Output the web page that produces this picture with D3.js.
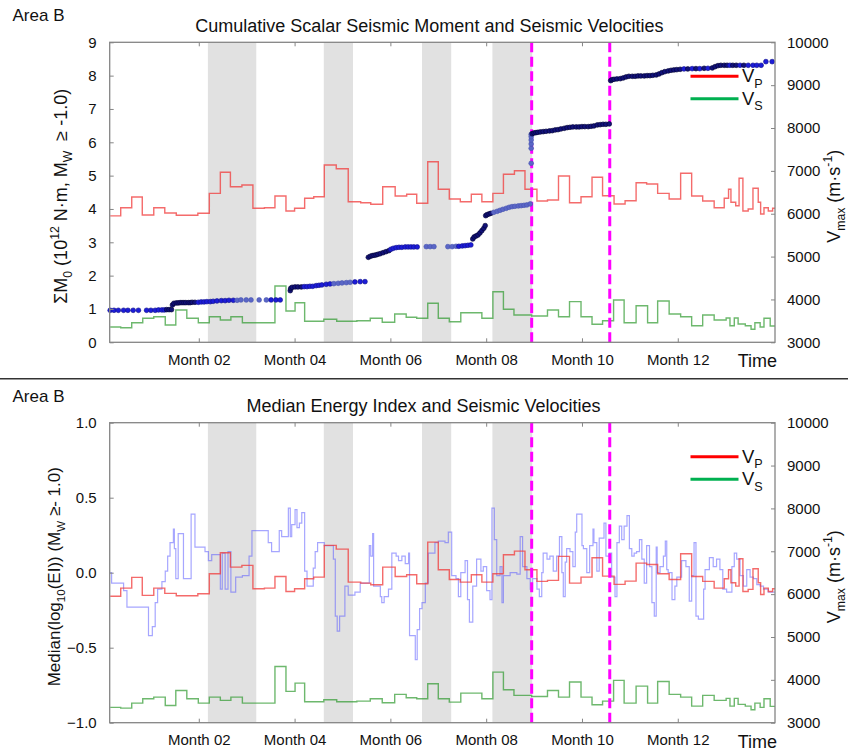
<!DOCTYPE html>
<html>
<head>
<meta charset="utf-8">
<script src="https://cdn.jsdelivr.net/npm/d3@7"></script>
<style>
  body { margin: 0; background: #fff; }
  text { font-family: "Liberation Sans", Arial, sans-serif; fill: #111; white-space: pre; }
</style>
</head>
<body>
<svg id="chart" width="848" height="751"></svg>
<script>
(function(){
    // time axis in months, "Month 02" tick sits at 2
    var xDomain = [0.14, 14.03];
    var monthTicks = [2, 4, 6, 8, 10, 12];
    var monthLabels = ['Month 02', 'Month 04', 'Month 06', 'Month 08', 'Month 10', 'Month 12'];

    var shadeBands = [[2.19, 3.20], [4.61, 5.22], [6.66, 7.27], [8.13, 8.96]];
    var eventLines = [8.95, 10.58];

    var momentTicks = [0, 1, 2, 3, 4, 5, 6, 7, 8, 9];
    var eiTicks = [-1.0, -0.5, 0.0, 0.5, 1.0];
    var velTicks = [3000, 4000, 5000, 6000, 7000, 8000, 9000, 10000];

    // Vp / Vs step series: [month, m/s], each value holds until the next one
    var vpSteps = [
        [0.15,5950],[0.37,6140],[0.60,6390],[0.82,5970],[1.06,6140],[1.29,6017],[1.53,5963],
        [1.98,6010],[2.22,6476],[2.45,6967],[2.66,6630],[2.90,6670],[3.13,6127],[3.37,6140],
        [3.59,6413],[3.82,6063],[4.00,6127],[4.21,6360],[4.40,6397],[4.62,7137],[4.87,7050],
        [5.12,6280],[5.38,6257],[5.59,6220],[5.84,6630],[6.10,6413],[6.34,6453],[6.55,6243],
        [6.78,7213],[7.00,6570],[7.23,6343],[7.46,6280],[7.69,6453],[7.91,6280],[8.14,6476],
        [8.36,6920],[8.59,7003],[8.81,6570],[9.06,6297],[9.28,6320],[9.51,6880],[9.74,6257],
        [9.98,6397],[10.21,6850],[10.43,6420],[10.67,6227],[10.90,6303],[11.13,6723],
        [11.35,6693],[11.58,6476],[11.82,6343],[12.06,6943],[12.29,6413],[12.52,6297],
        [12.76,6140],[12.97,6360],[13.06,6570],[13.11,6267],[13.21,6187],[13.28,6827],
        [13.36,6063],[13.47,6110],[13.57,6593],[13.68,6267],[13.73,5993],[13.80,6140],
        [13.89,6063],[13.98,6127],[14.03,6127]
    ];
    var vsSteps = [
        [0.15,3357],[0.37,3340],[0.60,3457],[0.83,3560],[1.06,3597],[1.30,3403],[1.52,3753],
        [1.75,3560],[1.99,3457],[2.22,3597],[2.45,3520],[2.67,3597],[2.91,3457],[3.59,4313],
        [3.82,3730],[4.01,3923],[4.21,3490],[4.61,3537],[4.88,3490],[5.30,3503],[5.58,3560],
        [5.83,3467],[6.09,3660],[6.33,3583],[6.55,3560],[6.78,3910],[7.00,3560],[7.23,3480],
        [7.47,3690],[7.91,3560],[8.14,4180],[8.36,3770],[8.58,3637],[8.95,3613],[9.28,3753],
        [9.51,3597],[9.74,3950],[9.98,3597],[10.21,3420],[10.43,3503],[10.66,3987],
        [10.88,3457],[11.13,3853],[11.37,3457],[11.58,3963],[11.82,3660],[12.06,3597],
        [12.29,3387],[12.52,3637],[12.76,3520],[13.01,3567],[13.09,3387],[13.18,3567],
        [13.26,3427],[13.41,3387],[13.53,3303],[13.61,3457],[13.72,3357],[13.80,3560],
        [13.93,3380],[14.03,3380]
    ];

    // cumulative scalar moment: [month, 10^12 N·m, shade 0 light .. 2 dark]
    var momentDots = [
        [0.15,0.96,1],[0.23,0.96,1],[0.32,0.96,1],[0.43,0.96,1],[0.52,0.96,1],[0.63,0.96,1],
        [0.74,0.96,1],[0.91,0.96,1],[1.00,0.96,1],[1.09,0.96,1],[1.16,0.97,1],[1.23,0.97,1],
        [1.28,0.97,1],[1.33,0.98,2],[1.38,0.98,2],[1.43,0.98,2],
        [1.45,1.12,2],[1.48,1.17,2],[1.53,1.18,2],[1.57,1.18,2],[1.61,1.19,2],[1.65,1.19,2],
        [1.69,1.19,2],[1.73,1.19,2],[1.78,1.19,2],[1.82,1.19,2],[1.86,1.20,2],[1.92,1.20,2],
        [1.99,1.20,1],[2.05,1.21,1],[2.11,1.21,1],[2.17,1.22,1],[2.24,1.22,1],[2.30,1.23,1],
        [2.38,1.24,1],[2.47,1.25,1],[2.55,1.25,1],[2.63,1.26,1],[2.72,1.26,1],[2.80,1.26,0],
        [2.88,1.27,0],[2.99,1.27,0],[3.09,1.27,0],[3.26,1.27,0],[3.41,1.27,0],[3.51,1.27,1],
        [3.61,1.27,1],[3.70,1.27,1],
        [3.91,1.55,2],[3.92,1.62,2],[3.95,1.65,2],[4.01,1.66,2],[4.07,1.66,2],[4.14,1.66,2],
        [4.20,1.67,1],[4.26,1.67,1],[4.32,1.68,1],[4.38,1.68,1],[4.45,1.70,1],[4.51,1.71,1],
        [4.57,1.72,1],[4.66,1.74,1],[4.74,1.75,1],[4.82,1.76,0],[4.91,1.77,0],[4.99,1.78,0],
        [5.08,1.79,0],[5.16,1.80,0],[5.26,1.81,1],[5.37,1.82,1],[5.47,1.82,1],
        [5.54,2.55,2],[5.58,2.58,2],[5.62,2.60,2],[5.66,2.61,2],[5.70,2.62,2],[5.74,2.64,2],
        [5.79,2.66,2],[5.85,2.69,2],[5.91,2.72,2],[5.97,2.75,2],[6.01,2.79,1],[6.06,2.82,1],
        [6.12,2.84,1],[6.18,2.85,1],[6.24,2.85,1],[6.31,2.86,1],[6.37,2.86,1],[6.43,2.86,1],
        [6.49,2.86,1],[6.56,2.86,1],[6.75,2.87,0],[6.83,2.87,0],[6.91,2.87,0],[7.20,2.87,0],
        [7.29,2.87,0],[7.37,2.88,0],[7.43,2.88,1],[7.50,2.89,1],[7.56,2.90,1],[7.62,2.91,1],
        [7.68,2.92,1],[7.72,3.10,2],[7.75,3.16,2],[7.79,3.19,2],[7.83,3.22,2],[7.87,3.28,2],
        [7.91,3.35,2],[7.95,3.42,2],[7.98,3.50,2],
        [7.99,3.80,2],[8.02,3.83,2],[8.06,3.85,2],[8.10,3.87,2],[8.16,3.90,0],[8.23,3.93,0],
        [8.29,3.96,0],[8.35,3.99,0],[8.42,4.02,0],[8.48,4.05,0],[8.54,4.07,0],[8.60,4.08,0],
        [8.67,4.09,0],[8.73,4.10,0],[8.79,4.11,0],[8.85,4.12,0],[8.92,4.15,0],
        [8.94,5.37,0],[8.94,5.82,0],[8.94,5.95,0],[8.94,6.07,0],[8.94,6.17,0],[8.94,6.24,0],
        [8.96,6.26,2],[9.00,6.28,2],[9.04,6.29,2],[9.08,6.30,2],[9.13,6.31,2],[9.19,6.32,2],
        [9.25,6.33,2],[9.32,6.34,2],[9.38,6.35,2],[9.44,6.37,2],[9.50,6.38,2],[9.56,6.40,2],
        [9.63,6.42,2],[9.69,6.44,2],[9.75,6.45,2],[9.81,6.46,2],[9.88,6.46,2],[9.94,6.46,2],
        [10.00,6.47,2],[10.06,6.47,2],[10.13,6.47,2],[10.19,6.48,2],[10.25,6.49,2],
        [10.32,6.52,2],[10.38,6.53,2],[10.44,6.54,2],[10.50,6.54,2],[10.57,6.55,2],
        [10.60,7.85,2],[10.63,7.88,2],[10.67,7.89,2],[10.73,7.90,2],[10.80,7.91,2],
        [10.86,7.93,2],[10.92,7.96,2],[10.98,7.98,2],[11.05,7.98,2],[11.11,7.98,2],
        [11.17,7.99,2],[11.23,7.99,2],[11.30,7.99,2],[11.36,8.00,2],[11.42,8.00,2],
        [11.48,8.01,2],[11.55,8.02,2],[11.61,8.05,2],[11.67,8.09,2],[11.73,8.12,2],
        [11.80,8.14,2],[11.86,8.16,2],[11.92,8.17,2],[11.98,8.18,2],[12.05,8.19,2],
        [12.13,8.20,1],[12.21,8.20,2],[12.30,8.21,1],[12.38,8.21,2],[12.46,8.21,1],
        [12.55,8.22,2],[12.63,8.22,1],[12.72,8.23,2],[12.78,8.27,2],[12.84,8.30,2],
        [12.90,8.31,2],[12.97,8.31,2],[13.03,8.31,2],[13.09,8.31,1],[13.15,8.31,2],
        [13.22,8.31,2],[13.30,8.31,1],[13.38,8.31,2],[13.47,8.31,1],[13.57,8.31,1],
        [13.65,8.31,1],[13.74,8.31,1],[13.84,8.42,1],[13.97,8.42,1]
    ];

    // median log10(EI) step series: [month, value]
    var eiSteps = [
        [0.15,0.00],[0.18,-0.07],[0.43,-0.12],[0.50,-0.23],[0.95,-0.42],[1.03,-0.36],
        [1.09,-0.20],[1.14,-0.11],[1.23,-0.06],[1.30,0.01],[1.35,0.11],[1.40,0.20],
        [1.47,0.29],[1.49,0.16],[1.52,-0.04],[1.57,0.26],[1.68,-0.04],[1.84,0.39],
        [1.92,0.17],[2.13,0.14],[2.20,0.08],[2.27,0.12],[2.45,-0.11],[2.49,0.13],
        [2.55,-0.11],[2.61,0.14],[2.67,-0.13],[2.77,-0.03],[2.91,-0.02],[3.05,0.11],
        [3.11,0.28],[3.45,0.20],[3.52,0.14],[3.68,0.28],[3.73,0.24],[3.87,0.43],
        [3.91,0.24],[3.94,0.32],[4.01,0.42],[4.05,0.30],[4.10,0.33],[4.15,0.40],
        [4.21,0.01],[4.26,-0.09],[4.39,0.03],[4.43,0.14],[4.48,0.20],[4.62,0.18],
        [4.81,0.09],[4.85,-0.29],[4.89,-0.39],[4.94,-0.29],[5.05,-0.09],[5.12,-0.15],
        [5.26,-0.13],[5.37,-0.07],[5.56,0.18],[5.59,0.11],[5.63,0.26],[5.65,-0.09],
        [5.79,-0.16],[5.82,-0.20],[5.87,-0.16],[5.96,-0.11],[6.03,0.13],[6.12,0.11],
        [6.17,0.08],[6.24,0.11],[6.31,0.06],[6.38,0.13],[6.40,-0.42],[6.52,-0.58],
        [6.56,-0.38],[6.61,-0.24],[6.66,-0.20],[6.73,-0.07],[6.79,0.13],[6.93,0.20],
        [7.00,0.21],[7.14,0.20],[7.21,0.27],[7.28,-0.02],[7.37,-0.04],[7.42,-0.16],
        [7.47,0.00],[7.56,0.08],[7.61,-0.18],[7.65,-0.33],[7.72,-0.09],[7.80,0.09],
        [7.89,0.01],[7.94,0.04],[8.01,-0.12],[8.08,-0.18],[8.12,0.43],[8.17,0.22],
        [8.22,-0.02],[8.29,0.04],[8.33,-0.20],[8.36,-0.02],[8.50,0.00],[8.64,-0.01],
        [8.71,0.24],[8.76,0.04],[8.85,-0.04],[8.92,-0.11],[8.97,-0.04],[9.06,-0.11],
        [9.11,-0.16],[9.16,0.00],[9.19,0.13],[9.27,0.09],[9.33,0.11],[9.40,0.01],
        [9.47,0.11],[9.53,0.24],[9.58,0.00],[9.61,-0.16],[9.65,0.07],[9.68,0.16],
        [9.75,0.14],[9.81,0.04],[9.86,0.27],[9.89,0.39],[10.00,0.18],[10.03,0.16],
        [10.10,0.00],[10.16,0.18],[10.23,0.29],[10.25,0.20],[10.31,0.01],[10.36,0.23],
        [10.46,0.33],[10.50,0.11],[10.57,0.13],[10.62,-0.03],[10.69,-0.16],[10.73,0.20],
        [10.78,0.31],[10.83,0.22],[10.88,0.31],[10.94,0.38],[10.99,0.16],[11.04,0.11],
        [11.09,0.13],[11.14,0.14],[11.20,0.22],[11.25,0.09],[11.30,-0.07],[11.35,0.18],
        [11.41,0.04],[11.46,-0.20],[11.51,-0.29],[11.55,0.17],[11.57,0.00],[11.63,0.04],
        [11.70,0.11],[11.74,0.21],[11.77,0.02],[11.80,0.00],[11.88,-0.18],[11.94,-0.09],
        [11.98,-0.03],[12.08,0.08],[12.17,0.04],[12.24,-0.19],[12.29,-0.02],[12.34,0.20],
        [12.38,-0.29],[12.43,-0.31],[12.54,-0.11],[12.57,0.02],[12.66,0.10],[12.74,0.04],
        [12.81,0.09],[12.88,0.02],[12.94,-0.11],[13.02,-0.13],[13.13,0.04],[13.18,0.13],
        [13.23,0.09],[13.30,-0.02],[13.37,-0.09],[13.44,0.02],[13.51,-0.03],[13.58,-0.04],
        [13.65,-0.08],[13.72,-0.09],[13.79,-0.11],[13.89,-0.13],[13.98,-0.13],[14.03,-0.13]
    ];

    var svg = d3.select('#chart');
    var plotL = 109.7, plotR = 775, plotH = 300;
    var x = d3.scaleLinear().domain(xDomain).range([plotL, plotR]);
    var dotFill = ['#5a66c6', '#1c1cd8', '#12127a'];
    var dotEdge = ['#4552b0', '#10108a', '#000030'];

    // separator between the two panels
    svg.append('line')
        .attr('x1', 0).attr('x2', 848).attr('y1', 378.7).attr('y2', 378.7)
        .attr('stroke', '#333').attr('stroke-width', 1.5);

    drawPanel(42.3, {
        title: 'Cumulative Scalar Seismic Moment and Seismic Velocities',
        titleX: 429.4, titleY: 31.7, areaY: 20.7,
        leftDomain: [0, 9], leftTicks: momentTicks, leftFmt: d3.format('d'),
        leftLabelX: 67, leftLabelSize: 18,
        leftLabel: [['ΣM', 0], ['0', 1], [' (10', 0], ['12', -1], [' N·m, M', 0], ['W', 1], ['  ≥ -1.0)', 0]],
        kind: 'moment'
    });
    drawPanel(422.7, {
        title: 'Median Energy Index and Seismic Velocities',
        titleX: 423.5, titleY: 411.5, areaY: 401.7,
        leftDomain: [-1, 1], leftTicks: eiTicks, leftFmt: d3.format('.1f'),
        leftLabelX: 59.5, leftLabelSize: 17,
        leftLabel: [['Median(log', 0], ['10', 1], ['(EI)) (M', 0], ['W', 1], [' ≥- 1.0)', 0]],
        kind: 'ei'
    });

    function drawPanel(top, opt){
        var bottom = top + plotH;
        var yL = d3.scaleLinear().domain(opt.leftDomain).range([bottom, top]);
        var yR = d3.scaleLinear().domain([3000, 10000]).range([bottom, top]);
        var g = svg.append('g');

        g.append('text').attr('x', 12.5).attr('y', opt.areaY)
            .style('font-size', '17px').text('Area B');
        g.append('text').attr('x', opt.titleX).attr('y', opt.titleY)
            .attr('text-anchor', 'middle').style('font-size', '18px').text(opt.title);

        g.selectAll('rect.band').data(shadeBands).join('rect')
            .attr('class', 'band')
            .attr('x', function(d){ return x(d[0]) })
            .attr('width', function(d){ return x(d[1]) - x(d[0]) })
            .attr('y', top).attr('height', plotH)
            .attr('fill', '#e1e1e1');

        var stepLine = function(ys){
            return d3.line().curve(d3.curveStepAfter)
                .x(function(d){ return x(d[0]) })
                .y(function(d){ return ys(d[1]) });
        };

        if (opt.kind === 'ei') {
            g.append('path').datum(eiSteps)
                .attr('d', stepLine(yL))
                .attr('fill', 'none').attr('stroke', '#5c5cff')
                .attr('stroke-opacity', 0.55).attr('stroke-width', 1.2);
        }

        g.append('path').datum(vpSteps)
            .attr('d', stepLine(yR))
            .attr('fill', 'none').attr('stroke', '#f03a3a')
            .attr('stroke-opacity', 0.75).attr('stroke-width', 1.4);
        g.append('path').datum(vsSteps)
            .attr('d', stepLine(yR))
            .attr('fill', 'none').attr('stroke', '#2f9a2f')
            .attr('stroke-opacity', 0.7).attr('stroke-width', 1.4);

        g.selectAll('line.event').data(eventLines).join('line')
            .attr('class', 'event')
            .attr('x1', function(d){ return x(d) }).attr('x2', function(d){ return x(d) })
            .attr('y1', top).attr('y2', bottom)
            .attr('stroke', '#ff00ff').attr('stroke-width', 3)
            .attr('stroke-dasharray', '10,4.5');

        if (opt.kind === 'moment') {
            g.selectAll('circle.m0').data(momentDots).join('circle')
                .attr('class', 'm0')
                .attr('cx', function(d){ return x(d[0]) })
                .attr('cy', function(d){ return yL(d[1]) })
                .attr('r', 2.4)
                .attr('fill', function(d){ return dotFill[d[2]] })
                .attr('stroke', function(d){ return dotEdge[d[2]] })
                .attr('stroke-width', 0.6);
        }

        // frame
        g.append('rect').attr('x', plotL).attr('y', top)
            .attr('width', plotR - plotL).attr('height', plotH)
            .attr('fill', 'none').attr('stroke', '#858585').attr('stroke-width', 1.3);

        var axes = [
            g.append('g').attr('transform', 'translate(0,' + bottom + ')')
                .call(d3.axisBottom(x).tickValues(monthTicks)
                    .tickFormat(function(d, i){ return monthLabels[i] })
                    .tickSize(-4).tickPadding(12)),
            g.append('g').attr('transform', 'translate(0,' + top + ')')
                .call(d3.axisTop(x).tickValues(monthTicks).tickFormat('').tickSize(-4)),
            g.append('g').attr('transform', 'translate(' + plotL + ',0)')
                .call(d3.axisLeft(yL).tickValues(opt.leftTicks).tickFormat(opt.leftFmt)
                    .tickSize(-4).tickPadding(13)),
            g.append('g').attr('transform', 'translate(' + plotR + ',0)')
                .call(d3.axisRight(yR).tickValues(velTicks).tickFormat(d3.format('d'))
                    .tickSize(-4).tickPadding(12))
        ];
        axes.forEach(function(a){
            a.select('.domain').remove();
            a.selectAll('.tick line').attr('stroke', '#858585');
            a.selectAll('.tick text').style('font-size', '15px')
                .attr('fill', '#111').style('font-family', '"Liberation Sans", Arial, sans-serif');
        });

        g.append('text').attr('x', 777).attr('y', bottom + 25)
            .attr('text-anchor', 'end').style('font-size', '18px').text('Time');

        // rotated axis titles
        richText(g.append('text')
            .attr('transform', 'translate(' + opt.leftLabelX + ',' + (top + 154) + ') rotate(-90)')
            .attr('text-anchor', 'middle').style('font-size', opt.leftLabelSize + 'px'),
            opt.leftLabel, opt.leftLabelSize);
        richText(g.append('text')
            .attr('transform', 'translate(840,' + (top + 154) + ') rotate(-90)')
            .attr('text-anchor', 'middle').style('font-size', '18px'),
            [['V', 0], ['max', 1], [' (m·s', 0], ['-1', -1], [')', 0]], 18);

        // legend
        var legend = [['P', '#ff0000', 34], ['S', '#00b050', 56.5]];
        legend.forEach(function(l){
            var ly = top + l[2];
            g.append('line').attr('x1', 690.5).attr('x2', 738.5)
                .attr('y1', ly).attr('y2', ly)
                .attr('stroke', l[1]).attr('stroke-width', 3);
            richText(g.append('text').attr('x', 742).attr('y', ly + 6)
                .style('font-size', '18.5px'), [['V', 0], [l[0], 1]], 18.5);
        });
    }

    // pieces: [text, 0 normal | 1 subscript | -1 superscript]
    function richText(sel, pieces, size){
        var shift = 0;
        pieces.forEach(function(p){
            var target = p[1] === 1 ? size * 0.3 : (p[1] === -1 ? -size * 0.42 : 0);
            sel.append('tspan')
                .attr('dy', target - shift)
                .style('font-size', (p[1] === 0 ? size : size * 0.68) + 'px')
                .text(p[0]);
            shift = target;
        });
    }
})();
</script>
</body>
</html>
